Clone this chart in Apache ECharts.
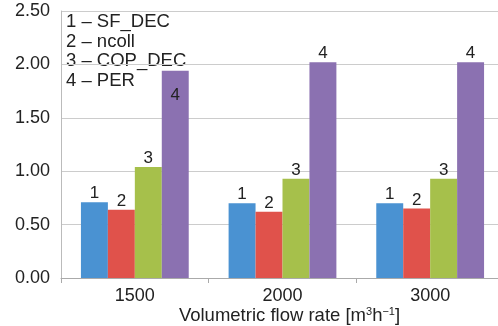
<!DOCTYPE html>
<html>
<head>
<meta charset="utf-8" />
<title>Volumetric flow rate</title>
<style>html,body{margin:0;padding:0;background:#fff;}</style>
</head>
<body>
<div id="main" style="width:498px;height:326px"></div>
<script src="https://cdn.jsdelivr.net/npm/echarts@6/dist/echarts.min.js"></script>
<script>
// values
var categories = ['1500', '2000', '3000'];
var sfDec = [0.71, 0.70, 0.70];
var ncoll = [0.64, 0.62, 0.65];
var copDec = [1.04, 0.93, 0.93];
var per = [1.94, 2.02, 2.02];
var yTicks = ['0.00', '0.50', '1.00', '1.50', '2.00', '2.50'];
var legendLines = ['1 – SF_DEC', '2 – ncoll', '3 – COP_DEC', '4 – PER'];

var font = 'Liberation Sans, Arial, sans-serif';
var colors = ['#4a92d2', '#e0524b', '#a6c04b', '#8b71b1'];

function series(name, data, num) {
  return {
    name: name,
    type: 'bar',
    data: data.map(function (v, i) {
      var d = { value: v };
      // first purple bar has its number inside the top
      if (num === '4' && i === 0) {
        d.label = { position: 'insideTop', distance: 16 };
      }
      return d;
    }),
    barGap: '0%',
    barCategoryGap: '27%',
    itemStyle: { color: colors[+num - 1] },
    label: {
      show: true,
      position: 'top',
      distance: 0,
      formatter: num,
      color: '#222',
      fontFamily: font,
      fontSize: 17
    },
    animation: false
  };
}

var chart = echarts.init(document.getElementById('main'));
chart.setOption({
  animation: false,
  grid: { left: 61, right: -6, top: 11, bottom: 48, containLabel: false, outerBoundsMode: 'none' },
  xAxis: {
    type: 'category',
    data: categories,
    name: 'Volumetric flow rate [m{sup|3}h{sup|−1}]',
    nameLocation: 'middle',
    nameGap: 28,
    nameMoveOverlap: false,
    nameTextStyle: {
      color: '#222', fontFamily: font, fontSize: 18.5, padding: [0, 0, 0, 14],
      rich: {
        sup: { fontSize: 11, fontFamily: font, color: '#222', verticalAlign: 'top', padding: [0, 0, 6, 0] }
      }
    },
    axisLine: { lineStyle: { color: '#aaa' } },
    axisTick: { show: true, length: 5, lineStyle: { color: '#aaa' } },
    axisLabel: { color: '#222', fontFamily: font, fontSize: 18, margin: 9 }
  },
  yAxis: {
    type: 'value',
    min: 0,
    max: 2.5,
    interval: 0.5,
    axisLine: { show: true, lineStyle: { color: '#bbb' } },
    axisTick: { show: false },
    splitLine: { lineStyle: { color: '#ccc' } },
    axisLabel: {
      color: '#222', fontFamily: font, fontSize: 18, margin: 11,
      formatter: function (v) { return yTicks[Math.round(v / 0.5)]; }
    }
  },
  graphic: [{
    type: 'text',
    left: 66,
    top: 12,
    style: {
      text: legendLines.join('\n'),
      font: '18.5px ' + font,
      fill: '#222',
      lineHeight: 19.7
    }
  }],
  series: [
    series('SF_DEC', sfDec, '1'),
    series('ncoll', ncoll, '2'),
    series('COP_DEC', copDec, '3'),
    series('PER', per, '4')
  ]
});
</script>
</body>
</html>
